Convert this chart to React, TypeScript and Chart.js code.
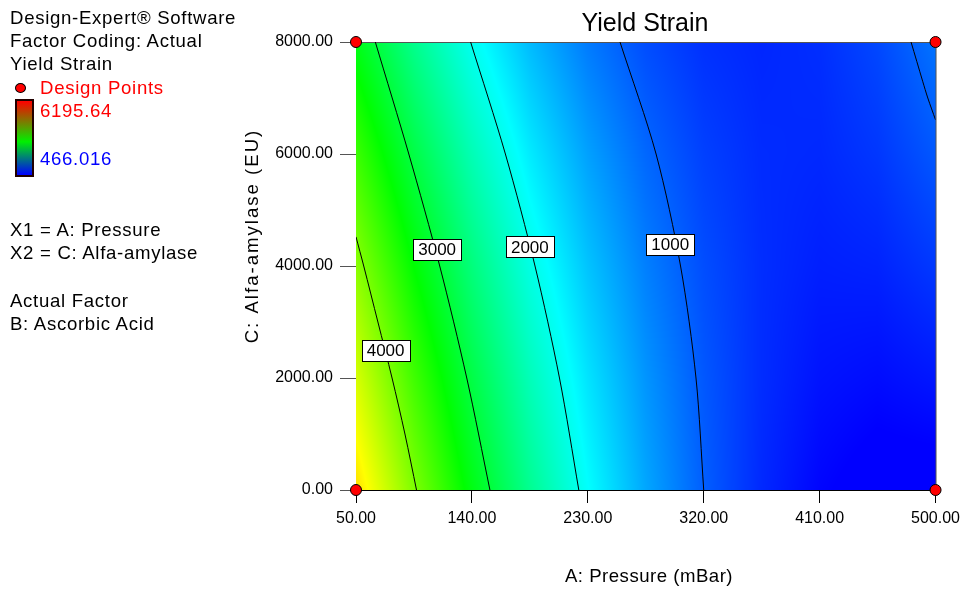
import React, { useEffect, useRef } from "react";
import { Chart, registerables } from "chart.js";

Chart.register(...registerables);

// ---------- data ----------
const pressureGrid = [50, 95, 140, 185, 230, 275, 320, 365, 410, 455, 500];
const amylaseGrid = [0, 2000, 4000, 6000, 8000];
const yieldRow0 = [4952, 4040, 3229, 2519, 1911, 1403, 997, 692, 489, 386, 385];
const yieldRow2000 = [4541, 3691, 2942, 2294, 1747, 1301, 957, 714, 572, 532, 592];
const yieldRow4000 = [4114, 3325, 2637, 2051, 1566, 1182, 900, 719, 639, 660, 783];
const yieldRow6000 = [3669, 2942, 2316, 1792, 1369, 1047, 826, 707, 689, 772, 956];
const yieldRow8000 = [3207, 2542, 1978, 1516, 1155, 895, 736, 678, 722, 867, 1113];

const contour4000 = [
  { x: 97, y: 0 }, { x: 88, y: 1000 }, { x: 78, y: 2000 }, { x: 67, y: 3000 }, { x: 56, y: 4000 }, { x: 50, y: 4520 },
];
const contour3000 = [
  { x: 154, y: 0 }, { x: 136, y: 2000 }, { x: 115, y: 4000 }, { x: 91, y: 6000 }, { x: 65, y: 8000 },
];
const contour2000 = [
  { x: 223, y: 0 }, { x: 208, y: 2000 }, { x: 189, y: 4000 }, { x: 166, y: 6000 }, { x: 139, y: 8000 },
];
const contour1000 = [
  { x: 320, y: 0 }, { x: 314, y: 2000 }, { x: 302, y: 4000 }, { x: 283, y: 6000 }, { x: 255, y: 8000 },
];
const contour1000b = [
  { x: 481, y: 8000 }, { x: 490, y: 7300 }, { x: 494, y: 7000 }, { x: 500, y: 6610 },
];

const contourLabels = ["4000", "3000", "2000", "1000"];
const contourLabelX = [73, 113, 185, 294];
const contourLabelY = [2500, 4300, 4340, 4390];

const designPoints = [
  { x: 50, y: 0 }, { x: 500, y: 0 }, { x: 50, y: 8000 }, { x: 500, y: 8000 },
];

const xTicks = [50, 140, 230, 320, 410, 500];
const yTicks = [0, 2000, 4000, 6000, 8000];
const colorMin = 466.016;
const colorMax = 6195.64;

const FONT = '"Liberation Sans", Arial, Helvetica, sans-serif';

// ---------- helpers ----------
const clamp = (v: number, a: number, b: number) => Math.max(a, Math.min(b, v));

function fieldValue(xv: number, yv: number) {
  const rows = [yieldRow0, yieldRow2000, yieldRow4000, yieldRow6000, yieldRow8000];
  let i = 0;
  while (i < pressureGrid.length - 2 && xv > pressureGrid[i + 1]) i++;
  let j = 0;
  while (j < amylaseGrid.length - 2 && yv > amylaseGrid[j + 1]) j++;
  const tx = clamp((xv - pressureGrid[i]) / (pressureGrid[i + 1] - pressureGrid[i]), 0, 1);
  const ty = clamp((yv - amylaseGrid[j]) / (amylaseGrid[j + 1] - amylaseGrid[j]), 0, 1);
  const v00 = rows[j][i], v10 = rows[j][i + 1], v01 = rows[j + 1][i], v11 = rows[j + 1][i + 1];
  return (v00 * (1 - tx) + v10 * tx) * (1 - ty) + (v01 * (1 - tx) + v11 * tx) * ty;
}

const colorStops = [
  [0, 0, 255],
  [0, 255, 255],
  [0, 255, 0],
  [255, 255, 0],
  [255, 0, 0],
];

function colorAt(v: number) {
  const t = clamp((v - colorMin) / (colorMax - colorMin), 0, 1);
  const s = t * 4;
  const k = Math.min(3, Math.floor(s));
  const f = s - k;
  const a = colorStops[k], b = colorStops[k + 1];
  return [a[0] + (b[0] - a[0]) * f, a[1] + (b[1] - a[1]) * f, a[2] + (b[2] - a[2]) * f];
}

// ---------- plugins ----------
const fieldPlugin = {
  id: "field",
  beforeDatasetsDraw(chart: any) {
    const { ctx, chartArea: a, scales } = chart;
    const xs = scales.x, ys = scales.y;
    const w = Math.round(a.right - a.left);
    const h = Math.round(a.bottom - a.top);
    const off = document.createElement("canvas");
    off.width = w;
    off.height = h;
    const octx = off.getContext("2d")!;
    const img = octx.createImageData(w, h);
    for (let j = 0; j < h; j++) {
      const yv = ys.getValueForPixel(a.top + j + 0.5);
      for (let i = 0; i < w; i++) {
        const xv = xs.getValueForPixel(a.left + i + 0.5);
        const c = colorAt(fieldValue(xv, yv));
        const p = (j * w + i) * 4;
        img.data[p] = c[0];
        img.data[p + 1] = c[1];
        img.data[p + 2] = c[2];
        img.data[p + 3] = 255;
      }
    }
    octx.putImageData(img, 0, 0);
    ctx.save();
    ctx.drawImage(off, a.left, a.top);
    // top and right frame
    ctx.strokeStyle = "#555";
    ctx.lineWidth = 1;
    ctx.beginPath();
    ctx.moveTo(a.left, a.top + 0.5);
    ctx.lineTo(a.right + 0.5, a.top + 0.5);
    ctx.lineTo(a.right + 0.5, a.bottom);
    ctx.stroke();
    ctx.restore();
  },
};

const labelsPlugin = {
  id: "contourLabels",
  afterDatasetsDraw(chart: any) {
    const { ctx, scales } = chart;
    ctx.save();
    ctx.font = `17px ${FONT}`;
    ctx.textAlign = "center";
    ctx.textBaseline = "middle";
    contourLabels.forEach((txt, k) => {
      const px = scales.x.getPixelForValue(contourLabelX[k]);
      const py = scales.y.getPixelForValue(contourLabelY[k]);
      const tw = ctx.measureText(txt).width;
      const bw = Math.round(tw + 10);
      const bh = 21;
      const bx = Math.round(px - bw / 2) + 0.5;
      const by = Math.round(py - bh / 2) + 0.5;
      ctx.fillStyle = "#fff";
      ctx.fillRect(bx, by, bw, bh);
      ctx.strokeStyle = "#000";
      ctx.lineWidth = 1;
      ctx.strokeRect(bx, by, bw, bh);
      ctx.fillStyle = "#000";
      ctx.fillText(txt, px, py + 1);
    });
    ctx.restore();
  },
};

const titlesPlugin = {
  id: "titles",
  afterDraw(chart: any) {
    const { ctx } = chart;
    ctx.save();
    ctx.fillStyle = "#000";
    ctx.textBaseline = "alphabetic";
    ctx.textAlign = "center";
    ctx.font = `25px ${FONT}`;
    ctx.fillText("Yield Strain", 645, 31);

    ctx.font = `18.6px ${FONT}`;
    (ctx as any).letterSpacing = "0.5px";
    ctx.fillText("A: Pressure (mBar)", 649, 582);

    ctx.translate(258, 236);
    ctx.rotate(-Math.PI / 2);
    (ctx as any).letterSpacing = "2px";
    ctx.fillText("C: Alfa-amylase (EU)", 0, 0);
    ctx.restore();
  },
};

// ---------- component ----------
function ContourChart() {
  const ref = useRef<HTMLCanvasElement | null>(null);

  useEffect(() => {
    if (!ref.current) return;
    const lineDs = (data: any[]) => ({
      data,
      showLine: true,
      borderColor: "#000",
      borderWidth: 1,
      pointRadius: 0,
      tension: 0.3,
      fill: false,
    });
    const chart = new Chart(ref.current, {
      type: "scatter",
      data: {
        datasets: [
          lineDs(contour4000),
          lineDs(contour3000),
          lineDs(contour2000),
          lineDs(contour1000),
          lineDs(contour1000b),
          {
            data: designPoints,
            pointRadius: 5.5,
            pointBackgroundColor: "#ff0000",
            pointBorderColor: "#000",
            pointBorderWidth: 1,
            showLine: false,
            clip: false,
            order: -1,
          } as any,
        ],
      },
      options: {
        responsive: false,
        animation: false,
        events: [],
        layout: { padding: { left: 0, right: 30, top: 42, bottom: 0 } },
        plugins: {
          legend: { display: false },
          tooltip: { enabled: false },
          title: { display: false },
        },
        scales: {
          x: {
            type: "linear",
            min: 50,
            max: 500,
            afterBuildTicks: (s: any) => {
              s.ticks = xTicks.map((v) => ({ value: v }));
            },
            afterFit: (s: any) => {
              s.height = 100;
            },
            grid: { drawOnChartArea: false, drawTicks: true, tickLength: 13, color: "#000" },
            border: { color: "#000", width: 1 },
            ticks: {
              color: "#000",
              font: { family: FONT, size: 16 },
              padding: 6,
              maxRotation: 0,
              autoSkip: false,
              callback: (v: any) => Number(v).toFixed(2),
            },
          },
          y: {
            type: "linear",
            min: 0,
            max: 8000,
            afterBuildTicks: (s: any) => {
              s.ticks = yTicks.map((v) => ({ value: v }));
            },
            afterFit: (s: any) => {
              s.width = 356;
            },
            grid: { drawOnChartArea: false, drawTicks: true, tickLength: 16, color: "#555" },
            border: { color: "#333", width: 1 },
            ticks: {
              color: "#000",
              font: { family: FONT, size: 16 },
              padding: 7,
              autoSkip: false,
              callback: (v: any) => Number(v).toFixed(2),
            },
          },
        },
      } as any,
      plugins: [fieldPlugin, labelsPlugin, titlesPlugin],
    });
    return () => chart.destroy();
  }, []);

  return (
    <canvas
      ref={ref}
      width={966}
      height={590}
      style={{ position: "absolute", left: 0, top: 0, width: 966, height: 590 }}
    />
  );
}

const panelLines: { text: string; baseline: number; left: number; color: string }[] = [
  { text: "Design-Expert® Software", baseline: 25, left: 10, color: "#000" },
  { text: "Factor Coding: Actual", baseline: 48, left: 10, color: "#000" },
  { text: "Yield Strain", baseline: 71, left: 10, color: "#000" },
  { text: "Design Points", baseline: 95, left: 40, color: "#ff0000" },
  { text: "6195.64", baseline: 118, left: 40, color: "#ff0000" },
  { text: "466.016", baseline: 166, left: 40, color: "#0000ff" },
  { text: "X1 = A: Pressure", baseline: 237, left: 10, color: "#000" },
  { text: "X2 = C: Alfa-amylase", baseline: 260, left: 10, color: "#000" },
  { text: "Actual Factor", baseline: 308, left: 10, color: "#000" },
  { text: "B: Ascorbic Acid", baseline: 331, left: 10, color: "#000" },
];

export default function App() {
  useEffect(() => {
    document.body.style.margin = "0";
  }, []);
  const fs = 18.6;
  const baseOff = fs * 0.8465;
  return (
    <div style={{ position: "absolute", left: 0, top: 0, width: 966, height: 590, background: "#fff", overflow: "hidden" }}>
      <ContourChart />
      <div style={{ position: "absolute", left: 0, top: 0, width: 340, height: 590, fontFamily: FONT, fontSize: fs, lineHeight: 1, letterSpacing: "0.7px" }}>
        {panelLines.map((l, i) => (
          <div
            key={i}
            style={{ position: "absolute", left: l.left, top: l.baseline - baseOff, color: l.color, whiteSpace: "nowrap" }}
          >
            {l.text}
          </div>
        ))}
        <div
          style={{
            position: "absolute",
            left: 15,
            top: 83,
            width: 11,
            height: 10,
            borderRadius: "50%",
            background: "#ff0000",
            border: "1px solid #000",
            boxSizing: "border-box",
          }}
        />
        <div
          style={{
            position: "absolute",
            left: 15,
            top: 99,
            width: 19,
            height: 78,
            boxSizing: "border-box",
            border: "2px solid #200",
            background: "linear-gradient(to bottom, #ff0000 0%, #00f000 55%, #0000ff 100%)",
          }}
        />
      </div>
    </div>
  );
}
